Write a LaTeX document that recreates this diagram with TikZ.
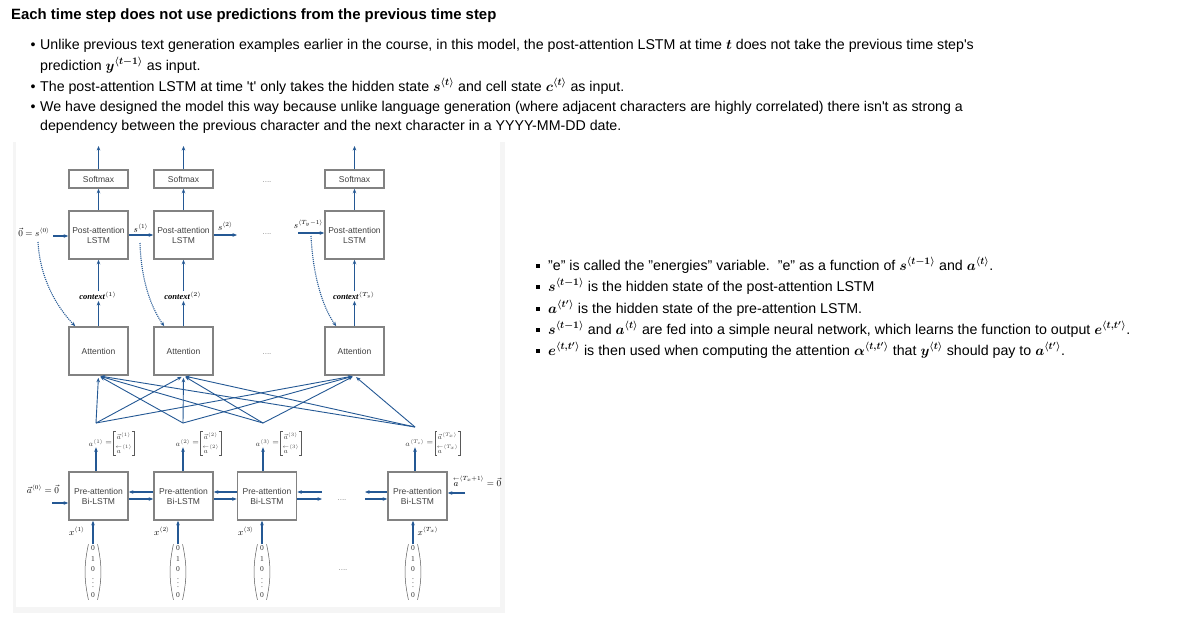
\RequirePackage{fix-cm}
\documentclass[tikz,border=0pt]{standalone}
\usepackage{amsmath}
\usepackage{amssymb}
\usepackage{fontspec}
\setmainfont{Liberation Sans}
\newfontfamily\lblfont{Liberation Serif}
\usepackage{xcolor}
\usepackage{tikz}
\usetikzlibrary{positioning,calc,arrows.meta}

\definecolor{arrowblue}{RGB}{36,88,148}
\definecolor{boxgray}{RGB}{130,130,130}

\newcommand{\bwd}[1]{\overset{\scriptscriptstyle\leftarrow}{#1}}

\tikzset{
  txt/.style={anchor=base west, inner sep=0pt, font=\fontsize{14.2}{17}\selectfont},
  dotb/.style={anchor=base, inner sep=0pt, font=\fontsize{14.2}{17}\selectfont},
  sqb/.style={fill=black, minimum size=3.8pt, inner sep=0pt},
  lstm/.style={draw=boxgray, line width=1.6pt, minimum width=59pt, minimum height=48pt,
    align=center, inner sep=0pt, text=black!75, font=\fontsize{8.5}{10}\selectfont},
  smbox/.style={lstm, minimum height=18pt},
  flow/.style={draw=arrowblue, line width=1.1pt, -{Stealth[length=4.5pt,width=3.6pt]}},
  fan/.style={flow, line width=0.9pt, shorten >=2pt},
  lbl/.style={inner sep=1pt, font=\fontsize{9}{10}\selectfont},
  ctx/.style={inner sep=1pt, font=\lblfont\itshape\bfseries\fontsize{8.5}{10}\selectfont},
  alab/.style={inner sep=0.5pt, text=black!75, font=\fontsize{7.5}{8}\selectfont},
  acol/.style={inner sep=1.5pt, align=center, text=black!75, font=\fontsize{7}{13.5}\selectfont},
  brk/.style={draw=black!65, line width=0.5pt},
  vec/.style={inner xsep=2.5pt, inner ysep=1.5pt, align=center, text=black!80,
    font=\lblfont\fontsize{7.5}{10.4}\selectfont},
  dotsl/.style={inner sep=0pt, text=black!45, font=\fontsize{8}{9}\selectfont}
}

\begin{document}
\begin{tikzpicture}[x=1pt,y=-1pt]
\useasboundingbox (0,0) rectangle (1194,630);

% heading and bullets
\node[anchor=base west, inner sep=0pt, font=\bfseries\fontsize{14.9}{18}\selectfont] (title) at (11,19)
  {Each time step does not use predictions from the previous time step};

\node[dotb] (b1) at (33,49) {\textbullet};
\node[txt] (l1) at (40,49) {Unlike previous text generation examples earlier in the course, in this model, the post-attention LSTM at time $\boldsymbol{t}$ does not take the previous time step\textquotesingle s};
\node[txt] (l2) at (40,70) {prediction $\boldsymbol{y^{\langle t-1\rangle}}$ as input.};
\node[dotb] (b2) at (33,91) {\textbullet};
\node[txt] (l3) at (40,91) {The post-attention LSTM at time \textquotesingle t\textquotesingle{} only takes the hidden state $\boldsymbol{s^{\langle t\rangle}}$ and cell state $\boldsymbol{c^{\langle t\rangle}}$ as input.};
\node[dotb] (b3) at (33,111) {\textbullet};
\node[txt] (l4) at (40,111) {We have designed the model this way because unlike language generation (where adjacent characters are highly correlated) there isn\textquotesingle t as strong a};
\node[txt] (l5) at (40,130) {dependency between the previous character and the next character in a YYYY-MM-DD date.};

% notes on the right
\foreach \y in {266,287,309,330,351}
  \node[sqb] at (538,\y) {};
\node[txt] (r1) at (548,270) {"e" is called the "energies" variable.\ \ "e" as a function of $\boldsymbol{s^{\langle t-1\rangle}}$ and $\boldsymbol{a^{\langle t\rangle}}$.};
\node[txt] (r2) at (548,291) {$\boldsymbol{s^{\langle t-1\rangle}}$ is the hidden state of the post-attention LSTM};
\node[txt] (r3) at (548,313) {$\boldsymbol{a^{\langle t'\rangle}}$ is the hidden state of the pre-attention LSTM.};
\node[txt] (r4) at (548,334) {$\boldsymbol{s^{\langle t-1\rangle}}$ and $\boldsymbol{a^{\langle t\rangle}}$ are fed into a simple neural network, which learns the function to output $\boldsymbol{e^{\langle t,t'\rangle}}$.};
\node[txt] (r5) at (548,355) {$\boldsymbol{e^{\langle t,t'\rangle}}$ is then used when computing the attention $\boldsymbol{\alpha^{\langle t,t'\rangle}}$ that $\boldsymbol{y^{\langle t\rangle}}$ should pay to $\boldsymbol{a^{\langle t'\rangle}}$.};

% panel
\fill[gray!8] (13,142) rectangle (505,613);
\fill[white] (16,142) rectangle (500,607);

% post-attention part
\foreach \i/\x in {1/98.5,2/183.5,3/354.5}{
  \node[smbox] (sm\i) at (\x,179) {Softmax};
  \node[lstm] (post\i) at (\x,235) {Post-attention\\LSTM};
  \node[lstm] (att\i) at (\x,351) {Attention};
  \coordinate (out\i) at (\x,146);
  \draw[flow] (sm\i) -- (out\i);
  \draw[flow] (post\i) -- (sm\i);
}
\node[ctx] (ctx1) at (98,296) {context$^{\langle 1\rangle}$};
\node[ctx] (ctx2) at (183,296) {context$^{\langle 2\rangle}$};
\node[ctx] (ctx3) at (354,296) {context$^{\langle T_y\rangle}$};
\foreach \i in {1,2,3}{
  \draw[flow] (att\i.north) -- (att\i.north |- ctx\i.south);
  \draw[flow] (ctx\i.north -| post\i) -- (post\i.south);
}

\node[lbl, anchor=east] (s0) at (51,232) {$\vec{0}=s^{\langle 0\rangle}$};
\coordinate (sin) at (53,236);
\draw[flow] (sin) -- (sin -| post1.west);
\draw[flow] (post1) -- (post2) node[lbl, midway, above=1pt] (s1) {$s^{\langle 1\rangle}$};
\coordinate (sout) at (237,235);
\draw[flow] (post2) -- (sout) node[lbl, midway, above=3pt] (s2) {$s^{\langle 2\rangle}$};
\coordinate (sprev) at (298,233);
\draw[flow] (sprev) -- (sprev -| post3.west) node[lbl, pos=0.4, above=3pt] (s3) {$s^{\langle T_y-1\rangle}$};

% dotted links from s to attention
\coordinate (d0) at (38,242);
\coordinate (d1) at (140,243);
\coordinate (d3) at (311,236);
\draw[flow, densely dotted] (d0) .. controls (40,278) and (56,306) .. ([xshift=7pt]att1.north west);
\draw[flow, densely dotted] (d1) .. controls (141,278) and (150,306) .. ([xshift=11pt]att2.north west);
\draw[flow, densely dotted] (d3) .. controls (313,275) and (322,306) .. ([xshift=12pt]att3.north west);

\node[dotsl] (dt1) at (267,182) {....};
\node[dotsl] (dt2) at (267,234) {....};
\node[dotsl] (dt3) at (267,354) {....};

% pre-attention part
\foreach \i/\x in {1/98.5,2/183.5,3/267,4/417.5}
  \node[lstm] (pre\i) at (\x,496) {Pre-attention\\Bi-LSTM};

\foreach \i/\x/\y in {1/96/423,2/183/423,3/263/423,4/415/427}
  \coordinate (p\i) at (\x,\y);
\foreach \i in {1,...,4}
  \foreach \j in {1,2,3}
    \draw[fan] (p\i) -- (att\j.south);

% a = [forward; backward]
\foreach \i/\x/\idx in {1/96/1,2/183/2,3/263/3,4/415/T_x}{
  \node[alab] (al\i) at (\x,443) {$a^{\langle\idx\rangle}$};
  \node[alab, right=0.5pt of al\i] (eq\i) {$=$};
  \node[acol, right=1pt of eq\i] (av\i) {$\vec{a}^{\langle\idx\rangle}$\\$\bwd{a}^{\langle\idx\rangle}$};
  \draw[brk] ([xshift=2pt]av\i.north west) -- (av\i.north west) -- (av\i.south west) -- ([xshift=2pt]av\i.south west);
  \draw[brk] ([xshift=-2pt]av\i.north east) -- (av\i.north east) -- (av\i.south east) -- ([xshift=-2pt]av\i.south east);
  \draw[flow] (pre\i.north -| al\i) -- (al\i.south);
}

\foreach \i/\j in {1/2,2/3}{
  \draw[flow] ([yshift=4pt]pre\j.west) -- ([yshift=4pt]pre\i.east);
  \draw[flow] ([yshift=-3pt]pre\i.east) -- ([yshift=-3pt]pre\j.west);
}
\coordinate (u3) at (322,496);
\coordinate (u4) at (365,496);
\draw[flow] ([yshift=4pt]u3) -- ([yshift=4pt]pre3.east);
\draw[flow] ([yshift=-3pt]pre3.east) -- ([yshift=-3pt]u3);
\draw[flow] ([yshift=4pt]pre4.west) -- ([yshift=4pt]u4);
\draw[flow] ([yshift=-3pt]u4) -- ([yshift=-3pt]pre4.west);
\node[dotsl] (dt4) at (342,500) {....};

\node[lbl] (a0) at (43,489) {$\vec{a}^{\langle 0\rangle}=\vec{0}$};
\coordinate (ain) at (52,503);
\draw[flow] (ain) -- (ain -| pre1.west);
\node[lbl] (aT) at (477,481) {$\bwd{a}^{\langle T_x+1\rangle}=\vec{0}$};
\coordinate (aend) at (465,493);
\draw[flow] (aend) -- (aend -| pre4.east);

% one-hot inputs
\foreach \i/\x/\xl/\idx in {1/93/77/1,2/178/162/2,3/262/246/3,4/413/428/T_x}{
  \node[vec] (in\i) at (\x,572) {0\\1\\0\\$\vdots$\\0};
  \draw[brk] (in\i.north west) to[bend right=12] (in\i.south west);
  \draw[brk] (in\i.north east) to[bend left=12] (in\i.south east);
  \draw[flow] (in\i) -- (in\i |- pre\i.south);
  \node[lbl] (x\i) at (\xl,531) {$x^{\langle\idx\rangle}$};
}
\node[dotsl] (dt5) at (343,570) {....};
\end{tikzpicture}
\end{document}
